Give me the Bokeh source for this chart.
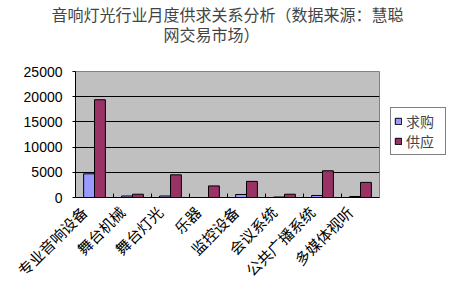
from bokeh.plotting import figure
from bokeh.models import ColumnDataSource, FixedTicker, Range1d, Legend, LegendItem, Title
from bokeh.transform import dodge
from bokeh.embed import file_html
from bokeh.resources import INLINE

# Monthly supply / demand by product group
categories = ["专业音响设备", "舞台机械", "舞台灯光", "乐器", "监控设备", "会议系统", "公共广播系统", "多媒体视听"]
demand = [4700, 300, 300, 0, 600, 100, 400, 200]
supply = [19400, 650, 4500, 2300, 3200, 650, 5300, 3000]
y_ticks = [0, 5000, 10000, 15000, 20000, 25000]
series_names = ["求购", "供应"]
title_lines = ["音响灯光行业月度供求关系分析（数据来源：慧聪", "网交易市场）"]

centers = [i + 0.5 for i in range(len(categories))]
source = ColumnDataSource(dict(center=centers, demand=demand, supply=supply))

CJK = "Noto Sans CJK SC"
IDSP = "\u3000"  # ideographic space

p = figure(frame_width=304, frame_height=126, output_backend="svg", toolbar_location=None,
           x_range=Range1d(0, len(categories)), y_range=Range1d(0, 25000),
           min_border_left=75, min_border_right=71, min_border_top=70, min_border_bottom=93)

# a blank spacer next to the plot area, then the two-line title above it
p.title = None
p.add_layout(Title(text=IDSP, text_font_size="1px", text_color="white", standoff=22), "above")
p.add_layout(Title(text=title_lines[0] + "\n" + IDSP * 7 + title_lines[1],
                   align="center", offset=-4, text_font=CJK, text_font_size="16px",
                   text_font_style="normal", text_line_height=0.85, standoff=0), "above")

p.background_fill_color = "#c0c0c0"
p.border_fill_color = "white"
p.outline_line_color = "#808080"

bar_w = 0.286
r1 = p.vbar(x=dodge("center", -bar_w / 2), top="demand", width=bar_w, source=source,
            fill_color="#9999ff", line_color="black", line_width=1)
r2 = p.vbar(x=dodge("center", bar_w / 2), top="supply", width=bar_w, source=source,
            fill_color="#993366", line_color="black", line_width=1)

# grid lines
p.xgrid.visible = False
p.ygrid.ticker = FixedTicker(ticks=y_ticks[1:-1])
p.ygrid.grid_line_color = "black"
p.ygrid.grid_line_width = 1

# y axis
p.yaxis.ticker = FixedTicker(ticks=y_ticks)
p.yaxis.major_label_text_font = "Liberation Sans"
p.yaxis.major_label_text_font_size = "14px"
p.yaxis.major_label_text_color = "black"
p.yaxis.major_tick_in = 0
p.yaxis.major_tick_out = 3
p.yaxis.minor_tick_line_color = None
p.yaxis.axis_line_color = "black"
p.yaxis.major_label_standoff = 10

# x axis: labels at category centres, ticks at category boundaries
p.xaxis.ticker = FixedTicker(ticks=centers, minor_ticks=list(range(1, len(categories))))
p.xaxis.major_label_overrides = {c: name + IDSP for c, name in zip(centers, categories)}
p.xaxis.major_label_orientation = 0.785398
p.xaxis.major_label_text_font = CJK
p.xaxis.major_label_text_font_size = "15px"
p.xaxis.major_label_text_color = "black"
p.xaxis.major_tick_in = 0
p.xaxis.major_tick_out = 0
p.xaxis.minor_tick_in = 4
p.xaxis.minor_tick_out = 0
p.xaxis.minor_tick_line_color = "black"
p.xaxis.axis_line_color = "black"
p.xaxis.major_label_standoff = 1

legend = Legend(items=[LegendItem(label=series_names[0], renderers=[r1]),
                       LegendItem(label=series_names[1], renderers=[r2])],
                location=(11, 42), label_text_font=CJK, label_text_font_size="14px",
                glyph_width=8, glyph_height=8, label_standoff=4, padding=3, spacing=0,
                label_height=18, label_width=36, border_line_color="black", border_line_width=1,
                background_fill_color="white", margin=0)
p.add_layout(legend, "right")

open("out.html", "w").write(file_html(p, INLINE))
